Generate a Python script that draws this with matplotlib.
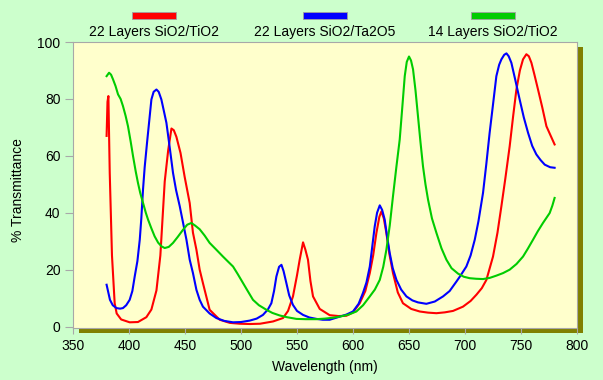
import matplotlib
matplotlib.use("Agg")
import matplotlib.pyplot as plt
from matplotlib.patches import Rectangle

plt.rcParams['font.family'] = ['Liberation Sans', 'DejaVu Sans']

# 22 Layers SiO2/TiO2
red_wl = [380, 380.8, 381.6, 382.8, 384.8, 387.2, 389, 393, 400.6, 408, 415.5, 420, 424.5, 428,
          431.9, 435, 437.9, 440, 442.3, 446, 449.7, 454.2, 457.1, 460.2, 463.1, 466, 472, 481,
          490, 499, 508, 517, 528.6, 537.5, 542, 546.4, 550, 552.4, 555.4, 557.5, 559.8, 562,
          564.3, 570.3, 579.2, 587, 594.1, 600, 606, 611, 615, 618, 620.9, 623.5, 625.4, 627.5,
          629.8, 632.5, 635.7, 640, 644.6, 652, 659.6, 667, 674.5, 682, 689.3, 698.2, 705, 710.2,
          715, 719.1, 725, 729, 732.5, 736, 739.9, 743, 745.9, 749, 751.8, 754.8, 757, 759.3,
          762, 765.2, 769, 772.7, 776, 780]
red_t = [67, 79, 81, 54, 25, 8.2, 4.6, 2.5, 1.5, 1.6, 3.3, 6, 12.7, 25,
         51, 62, 69.6, 69, 66.7, 61, 52.6, 43.4, 33, 27, 20, 15.3, 5.9, 2.4,
         1.3, 1.0, 0.9, 1.0, 1.8, 3, 5.5, 10.6, 18, 23.5, 29.6, 27, 23.5, 16,
         10.6, 6.2, 4, 3.7, 3.8, 5, 8.2, 12.5, 18.8, 25, 32.9, 38.5, 40.5, 38,
         32.9, 25.5, 18.8, 12, 8.2, 6.2, 5.3, 4.9, 4.7, 5.0, 5.5, 7, 9, 11.2,
         13.5, 16.4, 24.6, 33, 42.3, 52, 63.4, 74, 83.3, 90, 93.9, 95.7, 95, 92.7,
         88.5, 83.3, 77, 70.4, 67.5, 64]

# 22 Layers SiO2/Ta2O5
blue_wl = [380, 383, 385.5, 388.8, 392, 394.6, 397.5, 400.6, 403, 405.1, 407.5, 409.6, 411, 412.5,
           414, 416.1, 418, 420, 422, 424.5, 426.5, 428.9, 431, 433.4, 436, 439.3, 442, 445.3,
           448, 451.3, 454.2, 457.1, 460.2, 463.1, 466, 472, 478, 485, 492.9, 500, 507.8, 514,
           519.6, 524, 527.1, 529.5, 531.6, 534, 536.1, 538, 540.5, 543, 546.4, 550, 555.4, 561,
           567.3, 573, 579.2, 588.2, 594, 600, 605, 608.9, 612, 615, 617, 619.4, 621.5, 623.9,
           626, 628.3, 630.5, 632.8, 635.5, 638.8, 643, 647.7, 653, 658, 665.5, 673, 680.4,
           686.3, 692.3, 695.3, 701.2, 705, 708.7, 712, 716.1, 719, 722, 725, 728, 730.5, 732.5,
           735, 737, 739, 741.4, 745, 748.8, 752.5, 756.3, 760, 763.7, 767.5, 771.2, 776, 780]
blue_t = [14.7, 9.4, 7.5, 6.5, 6.3, 6.5, 7.5, 9.4, 12.5, 17.6, 23, 30.5, 38, 48.1,
          56, 64.6, 72, 79.8, 82.5, 83.3, 82.5, 79.8, 76, 71.6, 64, 54, 48, 42.3,
          37, 30.5, 23.5, 18.8, 12.9, 9.4, 7, 4.6, 3, 2, 1.5, 1.6, 2.1, 2.8,
          4.1, 6, 8.2, 12.5, 17.6, 21, 21.7, 19.5, 15.3, 11, 7.6, 5.5, 4.1, 3.2,
          2.7, 2.4, 2.4, 3.5, 4.2, 5.3, 8, 11.8, 15.5, 21.1, 27.5, 35.2, 40, 42.6,
          41, 37.6, 31.5, 25.8, 20.5, 16.4, 13, 10.6, 9.2, 8.5, 8.0, 8.8, 10.6,
          12.5, 15.8, 17.5, 21.1, 25, 30.5, 37, 47, 57, 68.1, 78, 88, 92, 93.9,
          95.5, 96, 95, 92.7, 86.5, 79.8, 73.5, 68.1, 63.5, 60.5, 58.5, 56.9, 56, 55.8]

# 14 Layers SiO2/TiO2
green_wl = [380, 382.2, 384, 385.7, 388, 390.2, 392.5, 394.6, 397, 399.1, 401.5, 403.6, 406, 408,
            410, 412.5, 415, 417, 420, 422.9, 426, 429, 431.9, 435.5, 439.3, 443.5, 448.2, 452,
            455.7, 459, 463.1, 467.5, 472, 478, 483.9, 488, 492.9, 497, 501.8, 506, 510.7, 516,
            522.7, 528, 534.6, 541, 549.5, 558, 567.3, 575, 582, 588.2, 596, 603, 609, 615,
            619.5, 623.9, 627, 629.8, 632.8, 635.7, 638.7, 641.7, 644, 646.2, 648, 650, 651.8,
            653.6, 655.8, 658, 660.2, 662.5, 664.7, 667, 670.5, 674.5, 679, 683.4, 688, 693.8,
            699, 704.2, 710, 716.1, 722, 728, 734, 739.9, 746, 751.8, 756, 760.7, 765, 769.6,
            775.6, 778, 780]
green_t = [88, 89.2, 88.5, 86.9, 84.5, 81.6, 80, 77.5, 74, 70.4, 65, 59.9, 54.5, 50.5,
           47, 43.5, 40, 37.6, 34.5, 31.7, 29.5, 28.2, 27.6, 28, 29.4, 31.5, 34, 35.8,
           36.4, 35.5, 34.2, 32, 29.4, 27, 24.6, 23, 21.1, 18.5, 15.3, 12.5, 9.4, 7.5,
           5.9, 4.8, 3.9, 3.3, 2.7, 2.6, 2.6, 2.8, 3.1, 3.5, 4.2, 5.3, 7.5, 10.6,
           13, 16.4, 21, 27, 35.5, 45.8, 56, 65.7, 77, 88, 93, 94.9, 93.5,
           90.4, 83, 74, 65, 56.3, 50, 44.6, 38, 32.9, 27.5, 23.5, 20.5, 18.6,
           17.5, 17, 16.8, 16.7, 17.1, 17.9, 18.8, 20, 22, 24.6, 27.3, 30.5, 33.5, 36.4,
           39.9, 42.5, 45.2]

labels = ["22 Layers SiO2/TiO2", "22 Layers SiO2/Ta2O5", "14 Layers SiO2/TiO2"]
colors = ["#FF0000", "#0000FF", "#00CC00"]
xticks = [350, 400, 450, 500, 550, 600, 650, 700, 750, 800]
yticks = [0, 20, 40, 60, 80, 100]

W, H = 603, 380
fig = plt.figure(figsize=(W / 100, H / 100), dpi=100, facecolor="#CCFFCC")
l, r, t, b = 73, 577, 42, 328
ax = fig.add_axes([l / W, 1 - b / H, (r - l) / W, (b - t) / H], facecolor="#FFFFCC")

# drop shadow behind plot area
fig.patches.append(Rectangle(((l + 6) / W, 1 - (b + 5) / H), (r - l) / W, (b - t) / H,
                             transform=fig.transFigure, facecolor="#808000",
                             edgecolor="none", zorder=-1))

for wl, tr, c in zip([red_wl, blue_wl, green_wl], [red_t, blue_t, green_t], colors):
    ax.plot(wl, tr, color=c, lw=1.5)

ax.set_xlim(350, 800)
ax.set_ylim(-0.5, 100)
ax.set_xticks(xticks)
ax.set_yticks(yticks)
for s in ax.spines.values():
    s.set_color("#A8A8A8")
    s.set_linewidth(0.8)
ax.tick_params(axis="y", direction="out", length=6, color="#A8A8A8", labelsize=10, pad=3)
ax.tick_params(axis="x", direction="out", length=4, color="#A8A8A8", labelsize=10, pad=4)
ax.set_xlabel("Wavelength (nm)", fontsize=10, va="center")
ax.set_ylabel("% Transmittance", fontsize=10, va="center")
ax.xaxis.set_label_coords((325 - l) / (r - l), (b - 367) / (b - t))
ax.yaxis.set_label_coords((18 - l) / (r - l), (b - 190) / (b - t))

# legend: coloured bar above each label
centers = [154, 325, 493]
for cx, c, lab in zip(centers, colors, labels):
    fig.patches.append(Rectangle(((cx - 22) / W, 1 - 18.5 / H), 44 / W, 6 / H,
                                 transform=fig.transFigure, facecolor=c,
                                 edgecolor="#A0A0A0", lw=0.6))
    fig.text(cx / W, 1 - 32 / H, lab, ha="center", va="center", fontsize=10)

fig.savefig("out.png", dpi=100, facecolor=fig.get_facecolor())
